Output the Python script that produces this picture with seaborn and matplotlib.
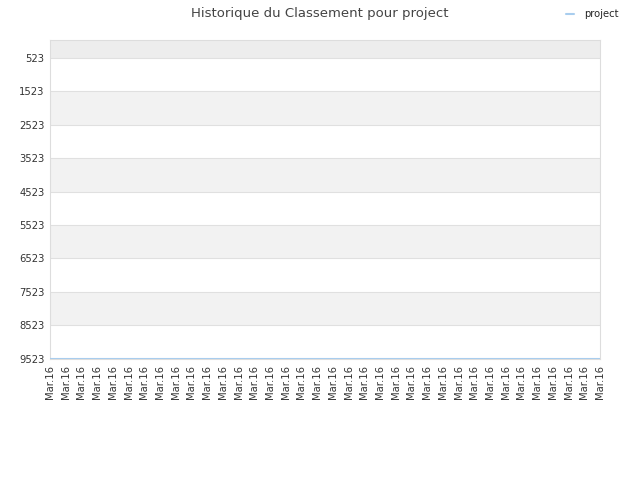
import matplotlib
matplotlib.use("Agg")
import matplotlib.pyplot as plt
import numpy as np
import pandas as pd
import seaborn as sns

# data
dates = ["Mar.16"] * 36
ranks = [9523] * 36
ytick_values = [523, 1523, 2523, 3523, 4523, 5523, 6523, 7523, 8523, 9523]

sns.set_style("white")
plt.rcParams["font.family"] = ["DejaVu Sans"]

df = pd.DataFrame({"pos": np.arange(len(dates)), "rank": ranks})

fig = plt.figure(figsize=(6.4, 4.8), dpi=100)
ax = fig.add_axes([50 / 640, 121 / 480, 550 / 640, 319 / 480])

# alternating bands between the grid lines
top = -15
ax.axhspan(top, ytick_values[0], color="#ededed", lw=0, zorder=0)
for i in range(len(ytick_values) - 1):
    if i % 2 == 1:
        ax.axhspan(ytick_values[i], ytick_values[i + 1], color="#f2f2f2", lw=0, zorder=0)
for v in ytick_values:
    ax.axhline(v, color="#e0e0e0", lw=0.8, zorder=1)

sns.lineplot(data=df, x="pos", y="rank", ax=ax, color="#a8cdee", lw=1.5,
             label="project", zorder=3)

ax.set_ylim(ytick_values[-1] + 10, top)
ax.set_xlim(0, len(dates) - 1)
ax.set_yticks(ytick_values)
ax.set_yticklabels([str(v) for v in ytick_values], fontsize=7.2, color="#333333")
ax.set_xticks(df["pos"])
ax.set_xticklabels(dates, rotation=90, fontsize=7.2, color="#333333")
ax.tick_params(axis="both", length=0, pad=4)
ax.set_xlabel("")
ax.set_ylabel("")
for s in ax.spines.values():
    s.set_color("#dddddd")
    s.set_linewidth(0.8)

fig.suptitle("Historique du Classement pour project", fontsize=9.5, color="#444444", y=0.985)
ax.legend(loc="upper right", bbox_to_anchor=(0.98, 1.0), bbox_transform=fig.transFigure,
          frameon=False, fontsize=7.2, handlelength=0.8, handletextpad=1.0)

fig.savefig("out.png", dpi=100)
